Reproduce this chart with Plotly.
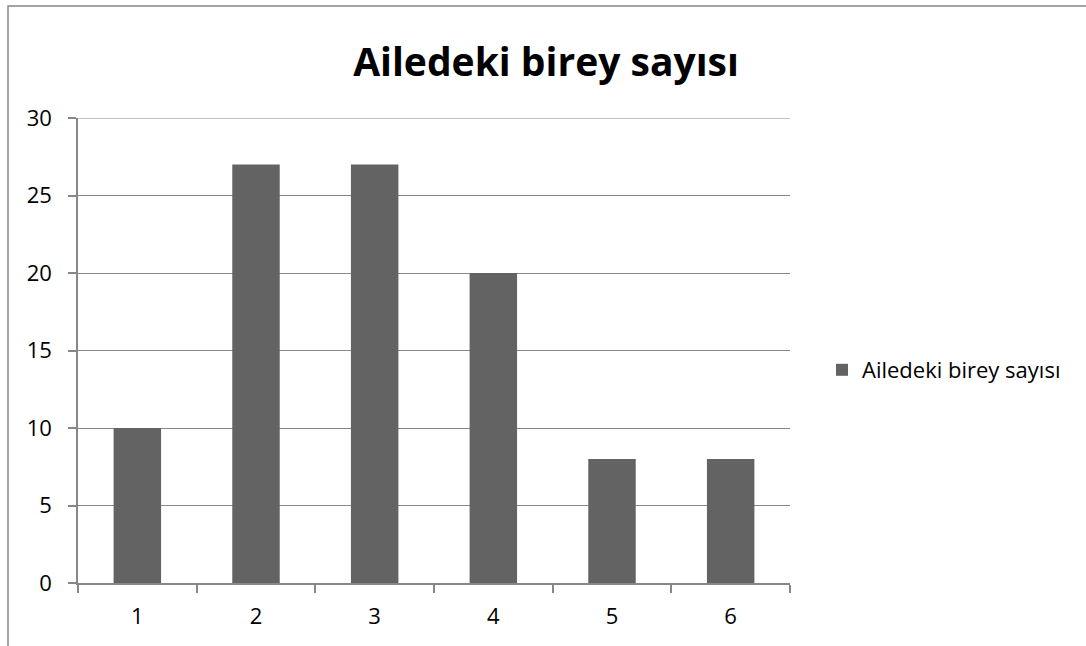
import plotly.graph_objects as go

# Family size distribution
categories = ["1", "2", "3", "4", "5", "6"]
counts = [10, 27, 27, 20, 8, 8]
series_name = "Ailedeki birey sayısı"
title_text = "Ailedeki birey sayısı"
y_ticks = [0, 5, 10, 15, 20, 25, 30]
y_max = 30

W, H = 1086, 646
L, R, T, B = 78, 296, 118, 63
plot_w = W - L - R
plot_h = H - T - B

grid_col = "#878787"
bar_col = "#636363"
font_family = "Open Sans, Noto Sans, DejaVu Sans, sans-serif"
label_size = 22

fig = go.Figure()
fig.add_trace(go.Bar(
    x=categories,
    y=counts,
    name=series_name,
    marker=dict(color=bar_col, line=dict(width=0)),
    showlegend=True,
))

# outer chart frame (extends past the right and bottom edges)
fig.add_shape(
    type="rect", xref="paper", yref="paper",
    x0=(8 - L) / plot_w, x1=2.0,
    y0=-1.0, y1=(H - B - 6) / plot_h,
    line=dict(color=grid_col, width=1.5),
    fillcolor="rgba(0,0,0,0)", layer="below",
)
# gridline at the top of the value range
fig.add_shape(
    type="line", xref="paper", yref="y",
    x0=0, x1=1, y0=y_max, y1=y_max,
    line=dict(color=grid_col, width=1.2), layer="below",
)

fig.update_layout(
    width=W, height=H,
    margin=dict(l=L, r=R, t=T, b=B, pad=0),
    paper_bgcolor="white",
    plot_bgcolor="white",
    bargap=0.6,
    font=dict(family=font_family, size=label_size, color="#000000"),
    title=dict(
        text="<b>" + title_text + "</b>",
        font=dict(family=font_family, size=39, color="#000000"),
        xref="container", yref="container",
        x=546 / W, y=1 - 62 / H,
        xanchor="center", yanchor="middle",
    ),
    legend=dict(
        x=(822 - L) / plot_w, y=(H - B - 370) / plot_h,
        xanchor="left", yanchor="middle",
        font=dict(family=font_family, size=label_size, color="#000000"),
        bgcolor="rgba(0,0,0,0)",
        borderwidth=0,
    ),
    xaxis=dict(
        type="category",
        tickson="boundaries",
        ticks="outside", ticklen=8, tickcolor=grid_col, tickwidth=1.5,
        showline=True, linecolor=grid_col, linewidth=1.5,
        showgrid=False, zeroline=False,
        ticklabelstandoff=13,
        tickfont=dict(family=font_family, size=label_size, color="#000000"),
    ),
    yaxis=dict(
        range=[0, y_max],
        tickvals=y_ticks,
        ticks="outside", ticklen=8, tickcolor=grid_col, tickwidth=1.5,
        showline=True, linecolor=grid_col, linewidth=1.5,
        showgrid=True, gridcolor=grid_col, gridwidth=1.2,
        zeroline=False,
        ticklabelstandoff=12,
        tickfont=dict(family=font_family, size=label_size, color="#000000"),
    ),
)

fig.write_html("out.html")
